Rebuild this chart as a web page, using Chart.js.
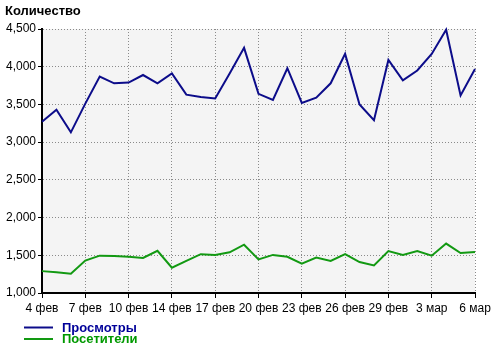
<!DOCTYPE html>
<html>
<head>
<meta charset="utf-8">
<script src="https://cdn.jsdelivr.net/npm/chart.js@4/dist/chart.umd.min.js"></script>
<style>
  html, body { margin: 0; padding: 0; background: #fff; }
  #wrap { width: 500px; height: 351px; position: relative; }
</style>
</head>
<body>
<div id="wrap"><canvas id="chart"></canvas></div>
<script>
// подписи оси X (каждая третья точка)
const tickLabels = ['4 фев', '7 фев', '10 фев', '14 фев', '17 фев', '20 фев', '23 фев', '26 фев', '29 фев', '3 мар', '6 мар']
const seriesNames = ['Просмотры', 'Посетители']

// значения по дням
const views = [3270, 3430, 3130, 3510, 3870, 3780, 3790, 3890, 3780, 3910, 3630, 3600, 3580, 3910, 4250,
  3640, 3560, 3980, 3520, 3590, 3780, 4170, 3500, 3290, 4090, 3820, 3950, 4170, 4490, 3620, 3970]
const visitors = [1290, 1275, 1255, 1430, 1495, 1490, 1480, 1465, 1560, 1335, 1425, 1515, 1505, 1540, 1640,
  1445, 1505, 1480, 1390, 1470, 1425, 1515, 1410, 1365, 1555, 1505, 1555, 1495, 1655, 1530, 1545]

const yMin = 1000
const yMax = 4500
const yStep = 500

const colors = ['#0c0c8a', '#129912']
const legendColors = ['#000099', '#009900']
const fontFamily = '"Liberation Sans", Arial, sans-serif'

// фон области графика, заголовок и легенда
const decor = {
  id: 'decor',
  beforeDraw(chart) {
    const { ctx, chartArea: a } = chart
    ctx.save()
    ctx.fillStyle = '#f4f4f4'
    ctx.fillRect(a.left, a.top, a.right - a.left, a.bottom - a.top)
    ctx.restore()
  },
  afterDraw(chart) {
    const ctx = chart.ctx
    ctx.save()
    ctx.font = 'bold 13px ' + fontFamily
    ctx.textBaseline = 'middle'
    ctx.fillStyle = '#000'
    ctx.fillText('Количество', 5, 11)

    chart.data.datasets.forEach((ds, i) => {
      const y = 327.5 + i * 11.5
      ctx.strokeStyle = ds.borderColor
      ctx.lineWidth = 2
      ctx.beginPath()
      ctx.moveTo(24, y)
      ctx.lineTo(53, y)
      ctx.stroke()
      ctx.fillStyle = legendColors[i]
      ctx.fillText(ds.label, 62, y + 0.5)
    })
    ctx.restore()
  }
}

const ctx = document.getElementById('chart').getContext('2d')

new Chart(ctx, {
  type: 'line',
  data: {
    datasets: [views, visitors].map((values, i) => ({
      label: seriesNames[i],
      data: values.map((v, idx) => ({ x: idx, y: v })),
      borderColor: colors[i],
      backgroundColor: colors[i],
      borderWidth: 2,
      pointRadius: 0,
      tension: 0,
      clip: false
    }))
  },
  options: {
    responsive: true,
    maintainAspectRatio: false,
    animation: false,
    layout: {
      padding: { top: 29, right: 25, left: 0, bottom: 0 }
    },
    plugins: {
      legend: { display: false },
      tooltip: { enabled: false }
    },
    scales: {
      x: {
        type: 'linear',
        min: 0,
        max: (tickLabels.length - 1) * 3,
        afterFit: (s) => { s.height = 58 },
        afterBuildTicks: (s) => {
          s.ticks = tickLabels.map((_, i) => ({ value: i * 3 }))
        },
        ticks: {
          color: '#000',
          padding: 3,
          maxRotation: 0,
          autoSkip: false,
          font: { family: fontFamily, size: 12 },
          callback: (v) => tickLabels[Math.round(v / 3)]
        },
        grid: {
          color: '#8a8a8a',
          tickColor: '#000',
          tickLength: 5,
          lineWidth: 1
        },
        border: {
          color: '#000',
          width: 2,
          dash: [1, 2]
        }
      },
      y: {
        min: yMin,
        max: yMax,
        afterFit: (s) => { s.width = 42 },
        ticks: {
          stepSize: yStep,
          color: '#000',
          padding: 2,
          font: { family: fontFamily, size: 12 },
          callback: (v) => v.toLocaleString('en-US')
        },
        grid: {
          color: '#8a8a8a',
          tickColor: '#000',
          tickLength: 4,
          lineWidth: 1
        },
        border: {
          color: '#000',
          width: 2,
          dash: [1, 2]
        }
      }
    }
  },
  plugins: [decor]
})
</script>
</body>
</html>
